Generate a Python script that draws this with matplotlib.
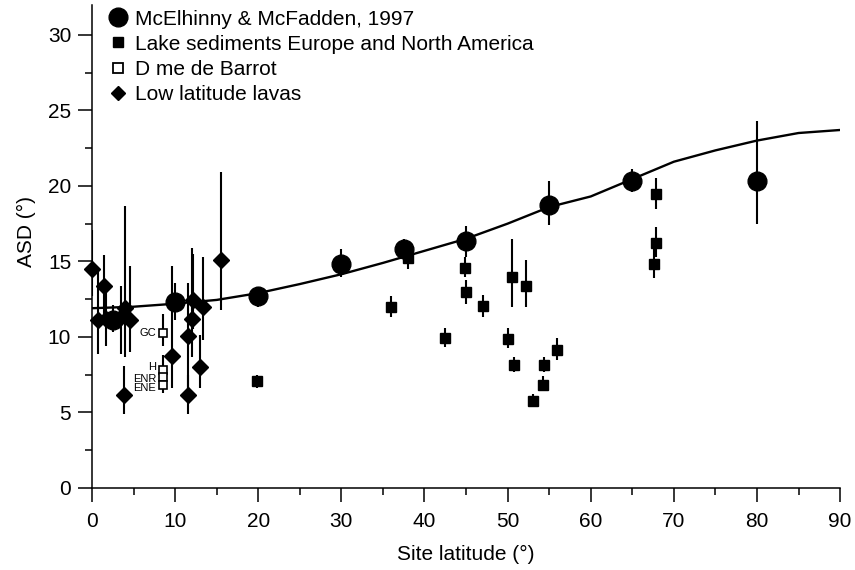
import numpy as np
import matplotlib
matplotlib.use("Agg")
import matplotlib.pyplot as plt
from matplotlib.lines import Line2D

plt.rcParams['font.family'] = ['Liberation Sans', 'DejaVu Sans']

# model curve
curve_lat = [0, 5, 10, 15, 20, 25, 30, 35, 40, 45, 50, 55, 60, 65, 70, 75, 80, 85, 90]
curve_asd = [11.9, 12.0, 12.2, 12.45, 12.9, 13.5, 14.15, 14.9, 15.7, 16.5, 17.5, 18.6, 19.3, 20.45, 21.6, 22.35, 23.0, 23.5, 23.7]

# McElhinny & McFadden, 1997
mm_lat = [2.5, 10, 20, 30, 37.5, 45, 55, 65, 80]
mm_asd = [11.1, 12.3, 12.7, 14.8, 15.8, 16.35, 18.75, 20.35, 20.35]
mm_lo = [10.3, 11.1, 12.0, 14.0, 15.0, 15.3, 17.4, 19.6, 17.5]
mm_hi = [12.1, 13.6, 13.3, 15.8, 16.5, 17.35, 20.3, 21.1, 24.3]

# lake sediments Europe and North America
lk_lat = [19.9, 36.0, 38.0, 42.5, 44.9, 45.0, 47.0, 50.1, 50.5, 50.8, 52.2, 53.0, 54.3, 54.4, 56.0, 67.6, 67.8, 67.8]
lk_asd = [7.05, 11.97, 15.2, 9.9, 14.55, 13.0, 12.05, 9.85, 13.95, 8.15, 13.38, 5.75, 6.82, 8.15, 9.15, 14.83, 16.25, 19.47]
lk_lo = [6.6, 11.3, 14.5, 9.36, 14.0, 12.2, 11.3, 9.25, 12.0, 7.7, 12.0, 5.4, 6.4, 7.7, 8.5, 13.9, 15.3, 18.5]
lk_hi = [7.5, 12.7, 15.8, 10.6, 15.3, 13.8, 12.8, 10.6, 16.5, 8.7, 15.1, 6.2, 7.4, 8.7, 9.9, 15.8, 17.3, 20.5]

# Dome de Barrot
db_lat = [8.55, 8.55, 8.55, 8.55]
db_asd = [10.28, 7.81, 7.33, 6.82]
db_lo = [9.4, 7.3, 6.9, 6.3]
db_hi = [11.5, 8.8, 7.8, 7.3]
db_names = ['GC', 'H', 'ENR', 'ENE']
db_dy = [0, 2, -1, -2]  # label nudge in points

# low latitude lavas
lv_lat = [0.05, 0.75, 1.45, 1.7, 3.45, 3.95, 3.9, 4.55, 9.6, 11.6, 11.6, 12.0, 12.2, 13.0, 13.3, 15.5]
lv_asd = [14.5, 11.1, 13.35, 11.2, 11.3, 11.9, 6.15, 11.15, 8.75, 10.05, 6.15, 11.2, 12.45, 8.0, 12.0, 15.1]
lv_lo = [12.7, 8.9, 11.5, 9.4, 8.9, 8.7, 4.9, 9.0, 6.6, 6.5, 4.9, 8.7, 10.5, 6.6, 9.8, 11.8]
lv_hi = [17.1, 14.4, 15.4, 13.0, 13.4, 18.7, 8.1, 14.7, 14.7, 13.6, 7.5, 15.9, 15.5, 10.1, 15.3, 20.9]


def yerr(v, lo, hi):
    v = np.array(v)
    return [v - np.array(lo), np.array(hi) - v]


fig = plt.figure(figsize=(8.55, 5.7), dpi=100)
ax = fig.add_axes([0.1076, 0.1439, 0.875, 0.848])

ax.plot(curve_lat, curve_asd, color='black', lw=1.7, zorder=2)

eb = dict(fmt='none', ecolor='black', elinewidth=1.5, capsize=0, zorder=1)
ax.errorbar(mm_lat, mm_asd, yerr=yerr(mm_asd, mm_lo, mm_hi), **eb)
ax.errorbar(lk_lat, lk_asd, yerr=yerr(lk_asd, lk_lo, lk_hi), **eb)
ax.errorbar(db_lat, db_asd, yerr=yerr(db_asd, db_lo, db_hi), **eb)
ax.errorbar(lv_lat, lv_asd, yerr=yerr(lv_asd, lv_lo, lv_hi), **eb)

ax.plot(mm_lat, mm_asd, 'o', color='black', ms=13.5, zorder=3, clip_on=False)
ax.plot(lk_lat, lk_asd, 's', color='black', ms=7, zorder=3)
ax.plot(db_lat, db_asd, 's', mfc='white', mec='black', mew=1.2, ms=5.5, zorder=3)
ax.plot(lv_lat, lv_asd, 'D', color='black', ms=8.5, zorder=3, clip_on=False)

for x, y, name, dy in zip(db_lat, db_asd, db_names, db_dy):
    ax.annotate(name, (x, y), xytext=(-5, dy), textcoords='offset points',
                ha='right', va='center', fontsize=8)

ax.set_xlim(0, 90)
ax.set_ylim(0, 32)
ax.set_xticks(np.arange(0, 91, 10))
ax.set_xticks(np.arange(0, 91, 5), minor=True)
ax.set_yticks(np.arange(0, 31, 5))
ax.set_yticks(np.arange(0, 31, 2.5), minor=True)
ax.tick_params(which='major', direction='out', length=10, width=1.1, labelsize=15, pad=5)
ax.tick_params(which='minor', direction='out', length=5, width=1.1)
ax.tick_params(axis='x', which='major', pad=7)
for s in ['top', 'right']:
    ax.spines[s].set_visible(False)
for s in ['left', 'bottom']:
    ax.spines[s].set_linewidth(1.1)

ax.set_xlabel('Site latitude (°)', fontsize=15, labelpad=10)
ax.set_ylabel('ASD (°)', fontsize=15, labelpad=10)
ax.yaxis.set_label_coords(-0.075, 0.53)

handles = [
    Line2D([], [], ls='none', marker='o', color='black', ms=13.5),
    Line2D([], [], ls='none', marker='s', color='black', ms=6.5),
    Line2D([], [], ls='none', marker='s', mfc='white', mec='black', mew=1.3, ms=6.5),
    Line2D([], [], ls='none', marker='D', color='black', ms=7),
]
labels = ['McElhinny & McFadden, 1997', 'Lake sediments Europe and North America',
          'D me de Barrot', 'Low latitude lavas']
ax.legend(handles, labels, loc='upper left', bbox_to_anchor=(0.0, 1.02), frameon=False,
          fontsize=15, handletextpad=0.25, labelspacing=0.3, borderaxespad=0.3,
          handlelength=1.1)

fig.savefig('out.png', dpi=100)
